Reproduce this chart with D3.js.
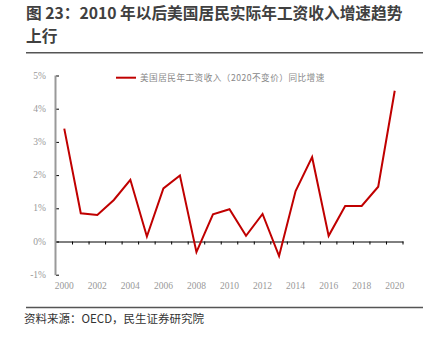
<!DOCTYPE html>
<html><head><meta charset="utf-8">
<script src="https://cdn.jsdelivr.net/npm/d3@7"></script>
<style>body{margin:0;background:#fff}svg{display:block}</style>
</head><body>
<script>
const years = ["2000","2001","2002","2003","2004","2005","2006","2007","2008","2009","2010","2011","2012","2013","2014","2015","2016","2017","2018","2019","2020"];
const growth = [3.40,0.85,0.80,1.25,1.86,0.15,1.60,1.99,-0.32,0.82,0.97,0.17,0.83,-0.44,1.52,2.54,0.17,1.07,1.07,1.65,4.54];
const yTicks = [-1,0,1,2,3,4,5];
const xLabels = ["2000","2002","2004","2006","2008","2010","2012","2014","2016","2018","2020"];
const seriesName = "美国居民年工资收入（2020不变价）同比增速";
const titleLines = ["图 23：2010 年以后美国居民实际年工资收入增速趋势","上行"];
const sourceText = "资料来源：OECD，民生证券研究院";

const W=430,H=343;
const svg=d3.select("body").append("svg").attr("width",W).attr("height",H);
const sans='"Noto Sans CJK SC","Noto Sans",sans-serif';
const serif='"Liberation Serif","DejaVu Serif",serif';

svg.selectAll("text.title").data(titleLines).join("text").attr("class","title")
  .attr("x",26).attr("y",(d,i)=>19+i*23).attr("font-family",sans).attr("font-weight","bold")
  .attr("font-size",15.7).attr("fill","#404040").text(d=>d);
svg.append("line").attr("x1",26).attr("x2",423).attr("y1",52.7).attr("y2",52.7).attr("stroke","#555").attr("stroke-width",1.5);
svg.append("line").attr("x1",26).attr("x2",423).attr("y1",307.5).attr("y2",307.5).attr("stroke","#555").attr("stroke-width",1.5);
svg.append("text").attr("x",24).attr("y",323).attr("font-family",sans).attr("font-size",11.5).attr("fill","#333").text(sourceText);

const x=d3.scaleBand().domain(years).range([56,403]);
const y=d3.scaleLinear().domain([-1,5]).range([274.7,75.5]);

// y axis
const ya=svg.append("g").attr("transform","translate(56,0)")
  .call(d3.axisRight(y).tickValues(yTicks).tickSize(3).tickFormat(""));
ya.select(".domain").remove();
ya.selectAll(".tick line").attr("stroke","#000");
svg.append("line").attr("x1",55.5).attr("x2",55.5).attr("y1",y(5)).attr("y2",y(-1)+0.5).attr("stroke","#999").attr("stroke-width",2);
svg.selectAll("text.yl").data(yTicks).join("text").attr("class","yl")
  .attr("x",46).attr("y",d=>y(d)+3).attr("text-anchor","end").attr("font-family",serif)
  .attr("font-size",9.5).attr("fill","#999").text(d=>d+"%");

// x axis at 0
const xa=svg.append("g").attr("transform",`translate(0,${y(0)})`)
  .call(d3.axisBottom(x).tickValues([]).tickSizeOuter(0));
xa.select(".domain").attr("stroke","#000");
const bounds=years.slice(1).map(d=>x(d)).concat([x.range()[1]]);
svg.selectAll("line.xt").data(bounds).join("line").attr("class","xt")
  .attr("x1",d=>d).attr("x2",d=>d).attr("y1",y(0)).attr("y2",y(0)+3).attr("stroke","#000");
svg.selectAll("text.xl").data(xLabels).join("text").attr("class","xl")
  .attr("x",d=>x(d)+x.bandwidth()/2).attr("y",289).attr("text-anchor","middle")
  .attr("font-family",serif).attr("font-size",9.5).attr("fill","#999").text(d=>d);

// line
const line=d3.line().x((d,i)=>x(years[i])+x.bandwidth()/2).y(d=>y(d));
svg.append("path").datum(growth).attr("d",line).attr("fill","none").attr("stroke","#C00000").attr("stroke-width",2);

// legend
svg.append("line").attr("x1",116).attr("x2",136).attr("y1",77.7).attr("y2",77.7).attr("stroke","#C00000").attr("stroke-width",2);
svg.append("text").attr("x",140).attr("y",81).attr("font-family",'"Noto Sans CJK SC",serif')
  .attr("font-size",8.6).attr("letter-spacing",0.5).attr("fill","#888").text(seriesName);
</script>
</body></html>
